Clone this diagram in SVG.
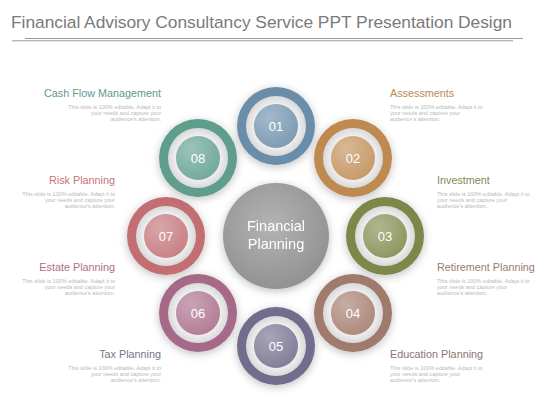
<svg xmlns="http://www.w3.org/2000/svg" width="560" height="420" viewBox="0 0 560 420">
<defs>
<filter id="sh" x="-40%" y="-40%" width="180%" height="180%">
<feDropShadow dx="0" dy="2" stdDeviation="4" flood-color="#000" flood-opacity="0.25"/>
</filter>
<radialGradient id="gc" cx="45%" cy="40%" r="65%">
<stop offset="0" stop-color="#b4b4b4"/>
<stop offset="1" stop-color="#8f8f8f"/>
</radialGradient>
<radialGradient id="gap" cx="50%" cy="50%" r="50%">
<stop offset="0.7" stop-color="#f2f2f2"/>
<stop offset="1" stop-color="#d9d9d9"/>
</radialGradient>
<radialGradient id="hi" cx="35%" cy="30%" r="75%">
<stop offset="0" stop-color="#fff" stop-opacity="0.3"/>
<stop offset="1" stop-color="#fff" stop-opacity="0"/>
</radialGradient>
</defs>
<style>
.t{font-family:"Liberation Sans",Arial,sans-serif}
.title{font-size:17.4px;fill:#7a7a7a}
.lbl{font-size:10.8px}
.body{font-size:5.5px;fill:#b8b8b8}
.num{font-size:13px;fill:#fff;text-anchor:middle}
.gapc{fill:url(#gap)}
.hl{fill:url(#hi)}
</style>
<rect width="560" height="420" fill="#fff"/>
<g id="title">
<text class="t title" x="11" y="28" textLength="501" lengthAdjust="spacing">Financial Advisory Consultancy Service PPT Presentation Design</text>
<line x1="25" y1="38.5" x2="523" y2="38.5" stroke="#9a9a9a" stroke-width="1"/>
<line x1="12" y1="40.8" x2="513" y2="40.8" stroke="#9a9a9a" stroke-width="1"/>
</g>
<g id="connectors"></g>
<g id="center" filter="url(#sh)">
<circle cx="276" cy="236" r="53" fill="url(#gc)"/>
<text class="t" x="276" y="231" font-size="14.5" fill="#fff" text-anchor="middle">Financial</text>
<text class="t" x="276" y="249" font-size="14.5" fill="#fff" text-anchor="middle">Planning</text>
</g>
<g id="n01">
<circle cx="276" cy="126" r="39" fill="#6b8eaa" filter="url(#sh)"/>
<circle cx="276" cy="126" r="30" class="gapc"/>
<circle cx="276" cy="126" r="22" fill="#7d9bb3"/>
<circle cx="276" cy="126" r="22" class="hl"/>
<text class="t num" x="276" y="131">01</text>
</g>
<g id="n02">
<circle cx="353" cy="158" r="39" fill="#bf8a50" filter="url(#sh)"/>
<circle cx="353" cy="158" r="30" class="gapc"/>
<circle cx="353" cy="158" r="22" fill="#c79a68"/>
<circle cx="353" cy="158" r="22" class="hl"/>
<text class="t num" x="353" y="163">02</text>
</g>
<g id="n03">
<circle cx="385" cy="236" r="39" fill="#7d874a" filter="url(#sh)"/>
<circle cx="385" cy="236" r="30" class="gapc"/>
<circle cx="385" cy="236" r="22" fill="#8e9760"/>
<circle cx="385" cy="236" r="22" class="hl"/>
<text class="t num" x="385" y="241">03</text>
</g>
<g id="n04">
<circle cx="353" cy="313" r="39" fill="#a07a6c" filter="url(#sh)"/>
<circle cx="353" cy="313" r="30" class="gapc"/>
<circle cx="353" cy="313" r="22" fill="#ad8a7d"/>
<circle cx="353" cy="313" r="22" class="hl"/>
<text class="t num" x="353" y="318">04</text>
</g>
<g id="n05">
<circle cx="276" cy="346" r="39" fill="#716d8c" filter="url(#sh)"/>
<circle cx="276" cy="346" r="30" class="gapc"/>
<circle cx="276" cy="346" r="22" fill="#827e9a"/>
<circle cx="276" cy="346" r="22" class="hl"/>
<text class="t num" x="276" y="351">05</text>
</g>
<g id="n06">
<circle cx="198" cy="313" r="39" fill="#a66a88" filter="url(#sh)"/>
<circle cx="198" cy="313" r="30" class="gapc"/>
<circle cx="198" cy="313" r="22" fill="#b27d96"/>
<circle cx="198" cy="313" r="22" class="hl"/>
<text class="t num" x="198" y="318">06</text>
</g>
<g id="n07">
<circle cx="166" cy="236" r="39" fill="#c26e73" filter="url(#sh)"/>
<circle cx="166" cy="236" r="30" class="gapc"/>
<circle cx="166" cy="236" r="22" fill="#c98085"/>
<circle cx="166" cy="236" r="22" class="hl"/>
<text class="t num" x="166" y="241">07</text>
</g>
<g id="n08">
<circle cx="198" cy="158" r="39" fill="#5e9d8d" filter="url(#sh)"/>
<circle cx="198" cy="158" r="30" class="gapc"/>
<circle cx="198" cy="158" r="22" fill="#72a99b"/>
<circle cx="198" cy="158" r="22" class="hl"/>
<text class="t num" x="198" y="163">08</text>
</g>
<g id="labels-left" class="t" text-anchor="end">
<text class="lbl" x="161" y="97" fill="#5e9a8c">Cash Flow Management</text>
<text class="body" x="161" y="109">This slide is 100% editable. Adapt it to</text>
<text class="body" x="161" y="115">your needs and capture your</text>
<text class="body" x="161" y="121">audience's attention.</text>
<text class="lbl" x="115" y="184" fill="#c4737a">Risk Planning</text>
<text class="body" x="115" y="196">This slide is 100% editable. Adapt it to</text>
<text class="body" x="115" y="202">your needs and capture your</text>
<text class="body" x="115" y="208">audience's attention.</text>
<text class="lbl" x="115" y="271" fill="#b06d86">Estate Planning</text>
<text class="body" x="115" y="283">This slide is 100% editable. Adapt it to</text>
<text class="body" x="115" y="289">your needs and capture your</text>
<text class="body" x="115" y="295">audience's attention.</text>
<text class="lbl" x="161" y="358" fill="#77758a">Tax Planning</text>
<text class="body" x="161" y="370">This slide is 100% editable. Adapt it to</text>
<text class="body" x="161" y="376">your needs and capture your</text>
<text class="body" x="161" y="382">audience's attention.</text>
</g>
<g id="labels-right" class="t">
<text class="lbl" x="390" y="97" fill="#b98a55">Assessments</text>
<text class="body" x="390" y="109">This slide is 100% editable. Adapt it to</text>
<text class="body" x="390" y="115">your needs and capture your</text>
<text class="body" x="390" y="121">audience's attention.</text>
<text class="lbl" x="437" y="184" fill="#858a5a">Investment</text>
<text class="body" x="437" y="196">This slide is 100% editable. Adapt it to</text>
<text class="body" x="437" y="202">your needs and capture your</text>
<text class="body" x="437" y="208">audience's attention.</text>
<text class="lbl" x="437" y="271" fill="#9c7a70">Retirement Planning</text>
<text class="body" x="437" y="283">This slide is 100% editable. Adapt it to</text>
<text class="body" x="437" y="289">your needs and capture your</text>
<text class="body" x="437" y="295">audience's attention.</text>
<text class="lbl" x="390" y="358" fill="#8d7272">Education Planning</text>
<text class="body" x="390" y="370">This slide is 100% editable. Adapt it to</text>
<text class="body" x="390" y="376">your needs and capture your</text>
<text class="body" x="390" y="382">audience's attention.</text>
</g>
</svg>
